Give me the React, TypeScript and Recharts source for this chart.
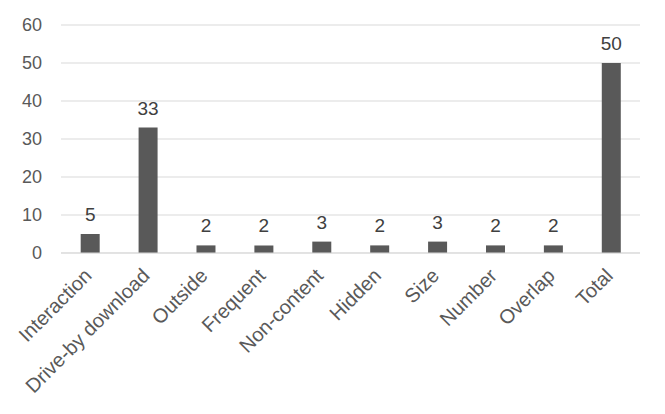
import { BarChart, Bar, XAxis, YAxis, CartesianGrid, LabelList } from 'recharts';

const categories = [
  'Interaction',
  'Drive-by download',
  'Outside',
  'Frequent',
  'Non-content',
  'Hidden',
  'Size',
  'Number',
  'Overlap',
  'Total',
];
const counts = [5, 33, 2, 2, 3, 2, 3, 2, 2, 50];
const yTicks = [0, 10, 20, 30, 40, 50, 60];

const data = categories.map((name, i) => ({ name, value: counts[i] }));

const FONT = '"Liberation Sans", Arial, sans-serif';
const TEXT = '#595959';

// eslint-disable-next-line @typescript-eslint/no-explicit-any
function SlantTick(props: any) {
  const { x, y, payload } = props;
  return (
    <g transform={`translate(${x + 3},${y + 16}) rotate(-45)`}>
      <text x={0} y={0} textAnchor="end" fill={TEXT} fontSize={20} fontFamily={FONT}>
        {payload.value}
      </text>
    </g>
  );
}

export default function App() {
  return (
    <div style={{ position: 'absolute', left: 0, top: 0, background: '#fff' }}>
      <BarChart
        width={665}
        height={414}
        data={data}
        margin={{ top: 25, right: 25, bottom: 11, left: 0 }}
        barCategoryGap="34%"
      >
        <CartesianGrid vertical={false} stroke="#d9d9d9" strokeWidth={1} />
        <XAxis
          dataKey="name"
          interval={0}
          height={150}
          tick={<SlantTick />}
          tickLine={false}
          axisLine={{ stroke: '#d9d9d9' }}
        />
        <YAxis
          width={61}
          domain={[0, 60]}
          ticks={yTicks}
          tickLine={false}
          axisLine={false}
          tickSize={0}
          tickMargin={19}
          tick={{ fill: TEXT, fontSize: 18, fontFamily: FONT }}
        />
        <Bar dataKey="value" fill="#595959" isAnimationActive={false}>
          <LabelList
            dataKey="value"
            position="top"
            offset={13}
            fill="#404040"
            fontSize={19}
            fontFamily={FONT}
          />
        </Bar>
      </BarChart>
    </div>
  );
}
